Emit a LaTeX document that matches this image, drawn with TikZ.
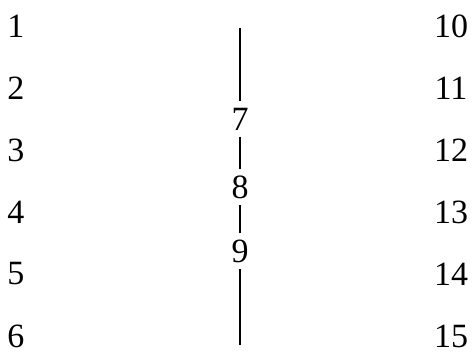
\documentclass[tikz,border=0pt]{standalone}
\usepackage{tikz}
\usetikzlibrary{positioning}
\usepackage{fontspec}
\setmainfont{Liberation Serif}

\begin{document}
\begin{tikzpicture}[x=1pt, y=-1pt, node distance =62pt and 435pt, on grid,
        num/.style={font=\fontsize{34}{40}\selectfont, inner sep=0pt},
        mid/.style={font=\fontsize{34}{40}\selectfont, inner sep=6pt}, line width=1.2pt]
        \useasboundingbox (0,0) rectangle (472,361);
        % left column
        \node[num] (n1) at (16,26) {1};
        \node[num] (n2) [below=of n1] {2};
        \node[num] (n3) [below=of n2] {3};
        \node[num] (n4) [below=of n3] {4};
        \node[num] (n5) [below=of n4] {5};
        \node[num] (n6) [below=of n5] {6};
        % right column
        \node[num] (n10) [right=of n1] {10};
        \node[num] (n11) [right=of n2] {11};
        \node[num] (n12) [right=of n3] {12};
        \node[num] (n13) [right=of n4] {13};
        \node[num] (n14) [right=of n5] {14};
        \node[num] (n15) [right=of n6] {15};
        % middle line
        \coordinate (top) at (240,28);
        \coordinate (bot) at (240,345);
        \node[mid] (n7) at (240,119) {7};
        \node[mid] (n8) at (240,187) {8};
        \node[mid] (n9) at (240,251) {9};

        \draw (top) -- (n7) -- (n8) -- (n9) -- (bot);
\end{tikzpicture}
\end{document}
